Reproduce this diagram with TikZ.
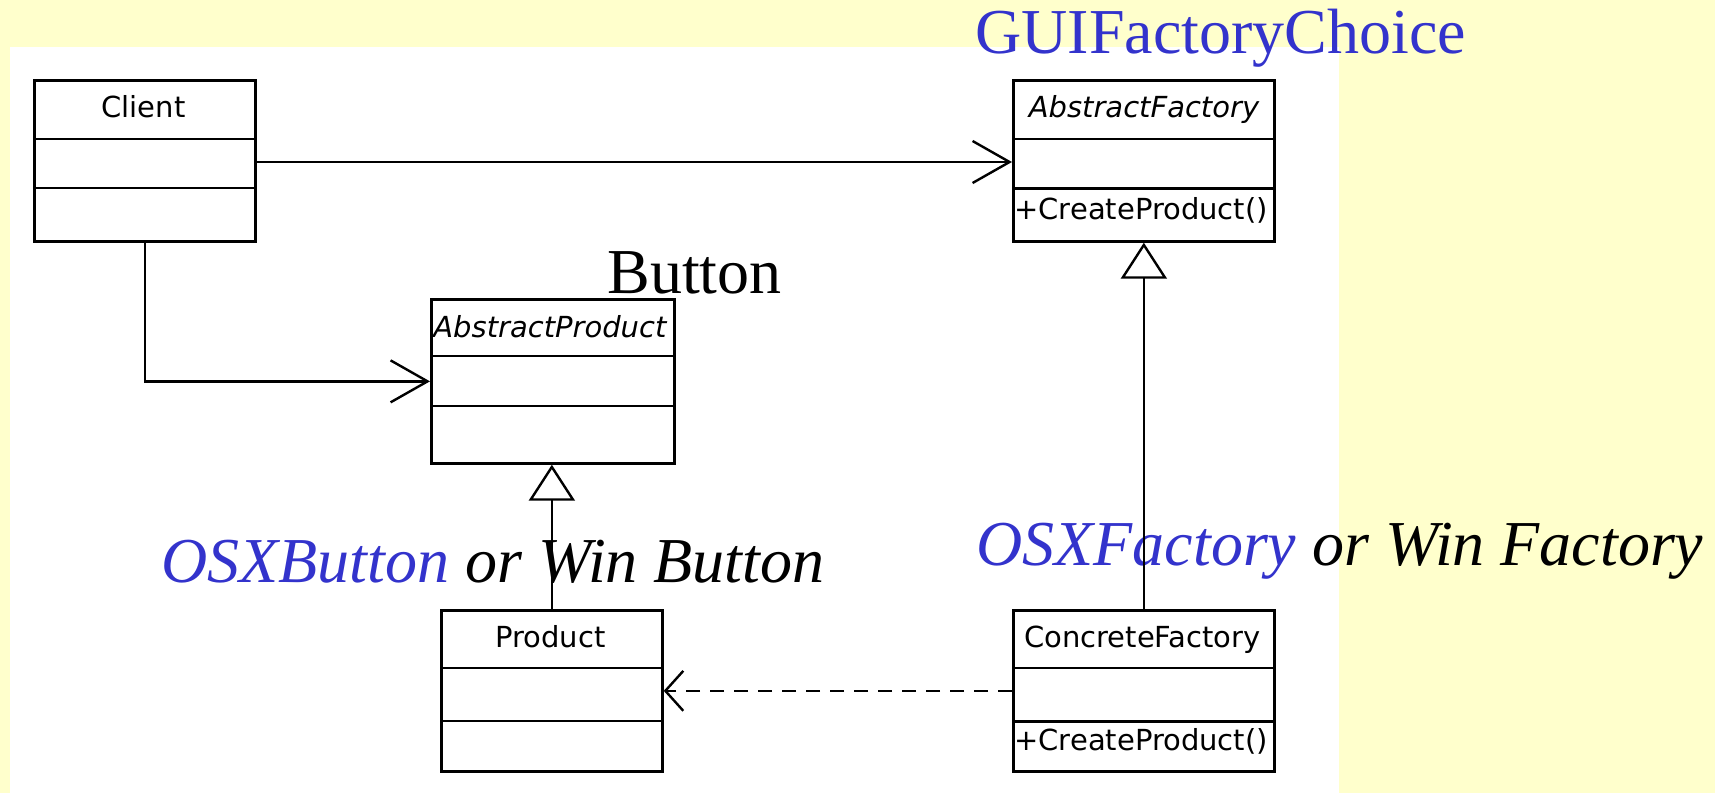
\documentclass[tikz,border=0pt]{standalone}
\usepackage{fontspec}
\setmainfont{Liberation Serif}
\newfontfamily\umlfont{DejaVu Sans}
\usetikzlibrary{arrows.meta}
\definecolor{slidebg}{HTML}{FFFFCC}
\definecolor{labelblue}{HTML}{3333CC}

\begin{document}
\begin{tikzpicture}[x=0.5pt,y=-0.5pt,
  classbox/.style={draw, line width=1.35pt, inner sep=0pt, anchor=north west},
  divider/.style={line width=1.35pt},
  umltext/.style={inner sep=0pt, font=\umlfont\fontsize{14.5pt}{16pt}\selectfont},
  biglabel/.style={inner sep=0pt, anchor=base west, font=\fontsize{32pt}{36pt}\selectfont},
  assoc/.style={line width=1.2pt, -{Straight Barb[length=18.5pt,width=21pt]}},
  generalize/.style={line width=1.2pt, -{Triangle[length=18pt,width=23pt,fill=white]}},
  depend/.style={line width=1.2pt, dash pattern=on 7pt off 5pt, -{Straight Barb[length=9pt,width=20pt]}}]

% slide background and white drawing area
\fill[slidebg] (0,0) rectangle (1715,793);
\fill[white] (10,47) rectangle (1339,793);
\useasboundingbox (0,0) rectangle (1715,793);

% annotations
\node[biglabel, text=labelblue] (guichoice) at (975,53) {GUIFactoryChoice};
\node[biglabel] (buttonlabel) at (607,293) {Button};
\node[biglabel, font=\fontsize{32pt}{36pt}\selectfont\itshape] (buttonimpl) at (161,582)
  {\textcolor{labelblue}{OSXButton} or Win Button};
\node[biglabel, font=\fontsize{32pt}{36pt}\selectfont\itshape] (factoryimpl) at (976,565)
  {\textcolor{labelblue}{OSXFactory} or Win Factory};

% class boxes
\node[classbox, minimum width=110.5pt, minimum height=80.5pt] (client) at (33,79) {};
\node[classbox, minimum width=130.5pt, minimum height=80.5pt] (af) at (1012,79) {};
\node[classbox, minimum width=121.5pt, minimum height=82pt] (ap) at (430,298) {};
\node[classbox, minimum width=110.5pt, minimum height=80.5pt] (product) at (440,609) {};
\node[classbox, minimum width=130.5pt, minimum height=80.5pt] (cf) at (1012,609) {};

% compartments
\draw[divider] (client.west |- 0,139) -- (client.east |- 0,139);
\draw[divider] (client.west |- 0,188) -- (client.east |- 0,188);
\draw[divider] (af.west |- 0,139) -- (af.east |- 0,139);
\draw[divider] (af.west |- 0,188.5) -- (af.east |- 0,188.5);
\draw[divider] (ap.west |- 0,356) -- (ap.east |- 0,356);
\draw[divider] (ap.west |- 0,406) -- (ap.east |- 0,406);
\draw[divider] (product.west |- 0,668) -- (product.east |- 0,668);
\draw[divider] (product.west |- 0,721) -- (product.east |- 0,721);
\draw[divider] (cf.west |- 0,668) -- (cf.east |- 0,668);
\draw[divider] (cf.west |- 0,721.5) -- (cf.east |- 0,721.5);

% class names and operations
\node[umltext, anchor=base] (clientname) at (143.5,117) {Client};
\node[umltext, anchor=base] (afname) at (1144,117) {\itshape AbstractFactory};
\node[umltext, anchor=base west] (afop) at (1014,219) {+CreateProduct()};
\node[umltext, anchor=base west] (apname) at (433,337) {\itshape AbstractProduct};
\node[umltext, anchor=base] (productname) at (550.5,647) {Product};
\node[umltext, anchor=base] (cfname) at (1142.5,647) {ConcreteFactory};
\node[umltext, anchor=base west] (cfop) at (1014,750) {+CreateProduct()};

% relationships
\draw[assoc] (client.east |- 0,162) -- (af.west |- 0,162);
\draw[assoc] (client.south) |- (ap.west);
\draw[generalize] (product.north) -- (product.north |- ap.south);
\draw[generalize] (cf.north) -- (cf.north |- af.south);
\draw[depend] (cf.west) -- (product.east);
\end{tikzpicture}
\end{document}
